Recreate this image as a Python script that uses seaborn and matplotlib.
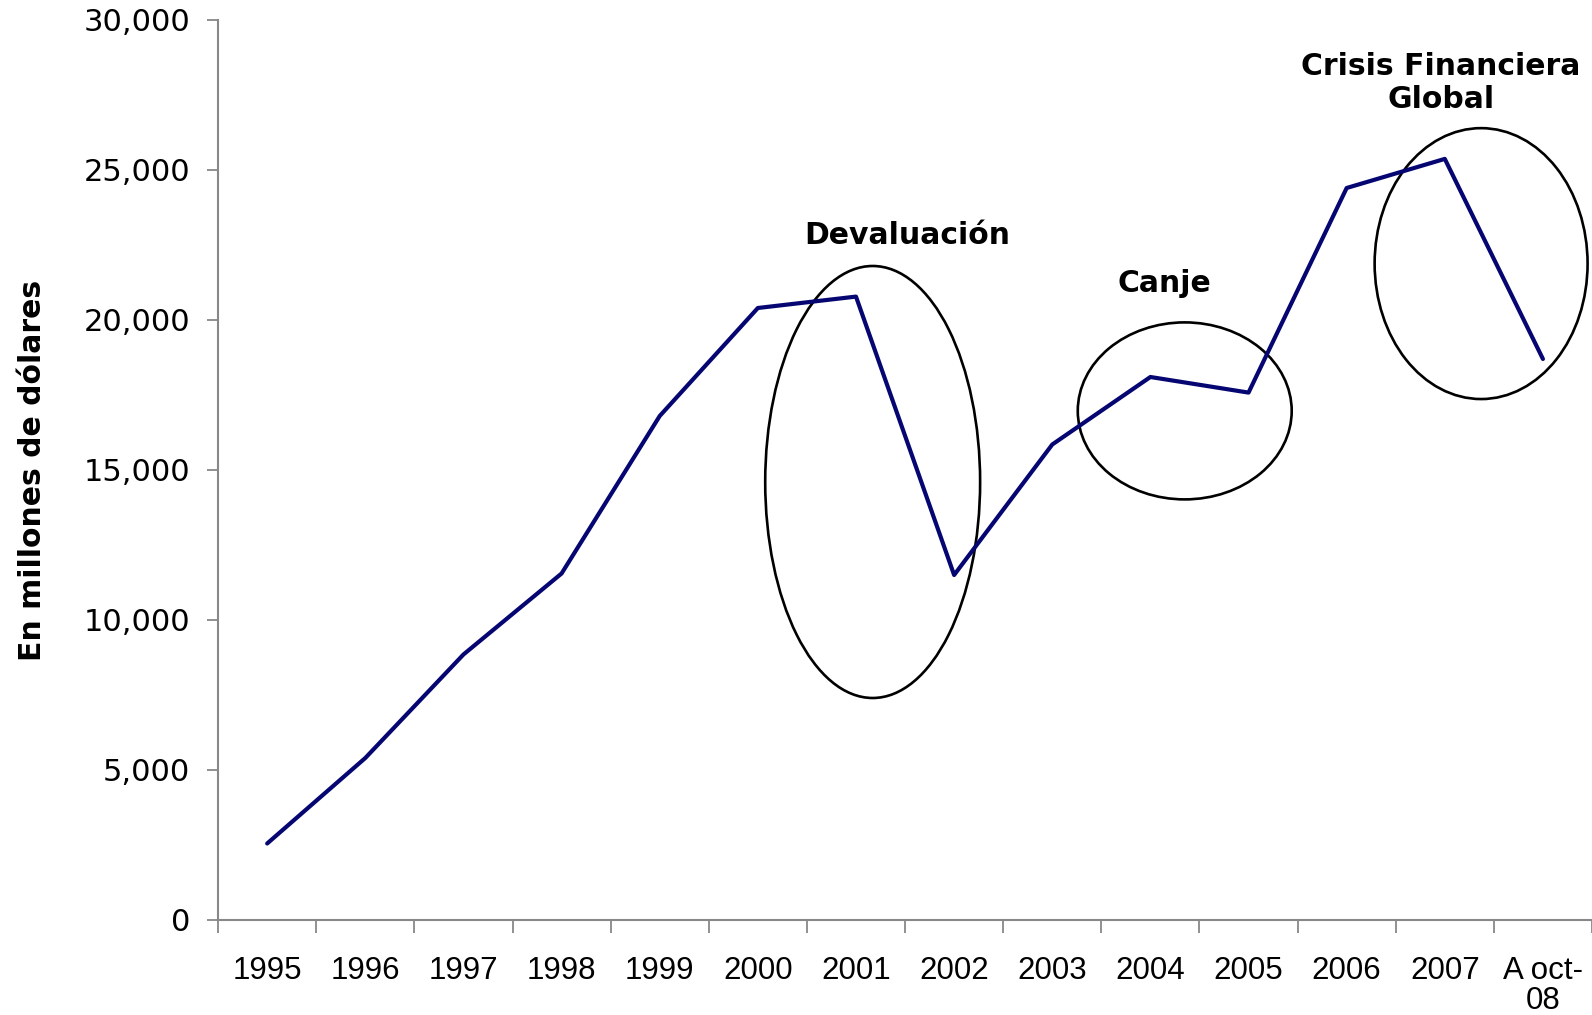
import numpy as np
import pandas as pd
import matplotlib
matplotlib.use("Agg")
import matplotlib.pyplot as plt
import seaborn as sns
from matplotlib.patches import Ellipse
from matplotlib.ticker import FuncFormatter

# --- data ---
categories = ["1995", "1996", "1997", "1998", "1999", "2000", "2001",
              "2002", "2003", "2004", "2005", "2006", "2007", "A oct-\n08"]
values = [2550, 5400, 8850, 11550, 16800, 20400, 20780,
          11500, 15850, 18100, 17580, 24400, 25370, 18700]

# highlighted episodes: label, label position (category idx, value), ellipse centre, width, height
events = ["Devaluación", "Canje", "Crisis Financiera\nGlobal"]
label_x = [6.52, 9.14, 11.96]
label_y = [22800, 21200, 27900]
ell_x = [6.17, 9.35, 12.37]
ell_y = [14600, 16970, 21880]
ell_w = [2.19, 2.18, 2.17]
ell_h = [14400, 5900, 9030]

sns.set_theme(style="white")
plt.rcParams['font.family'] = ['DejaVu Sans']
plt.rcParams['text.color'] = 'black'
plt.rcParams['axes.labelcolor'] = 'black'

fig = plt.figure(figsize=(15.92, 10.15), dpi=100)
ax = fig.add_axes([0.137, 0.0936, 0.863, 0.8867])

df = pd.DataFrame({"x": np.arange(len(categories)), "y": values})
sns.lineplot(data=df, x="x", y="y", color="#060672", linewidth=3.0, ax=ax)

for i, name in enumerate(events):
    ax.add_patch(Ellipse((ell_x[i], ell_y[i]), ell_w[i], ell_h[i],
                         fill=False, edgecolor="black", linewidth=1.9, clip_on=False))
    ax.text(label_x[i], label_y[i], name, ha="center", va="center",
            fontsize=21.5, fontweight="bold", linespacing=1.2)

ax.set_xlim(-0.5, len(categories) - 0.5)
ax.set_ylim(0, 30000)
ax.set_yticks(np.arange(0, 30001, 5000))
ax.yaxis.set_major_formatter(FuncFormatter(lambda v, p: f"{int(v):,}"))

# tick marks sit between categories, labels at the centres
ax.set_xticks(np.arange(-0.5, len(categories), 1.0))
ax.set_xticklabels([])
ax.set_xticks(np.arange(len(categories)), minor=True)
ax.set_xticklabels(categories, minor=True, fontsize=22.5,
                   family=['Liberation Sans Narrow', 'Liberation Sans', 'DejaVu Sans'],
                   linespacing=1.0)
ax.tick_params(axis="x", which="major", direction="out", length=9, width=1.3,
               color="#888888", bottom=True)
ax.tick_params(axis="x", which="minor", length=0, pad=26, bottom=True, labelcolor="black")
ax.tick_params(axis="y", direction="out", length=8, width=1.3, color="#888888",
               labelsize=22, pad=12, left=True, labelcolor="black")
for lbl in ax.get_xticklabels(minor=True):
    lbl.set_verticalalignment("top")

ax.set_xlabel("")
ax.set_ylabel("En millones de dólares", fontsize=21.5, fontweight="bold", labelpad=26)

sns.despine(ax=ax)
for s in ["left", "bottom"]:
    ax.spines[s].set_color("#888888")
    ax.spines[s].set_linewidth(1.5)

fig.savefig("out.png", dpi=100)
